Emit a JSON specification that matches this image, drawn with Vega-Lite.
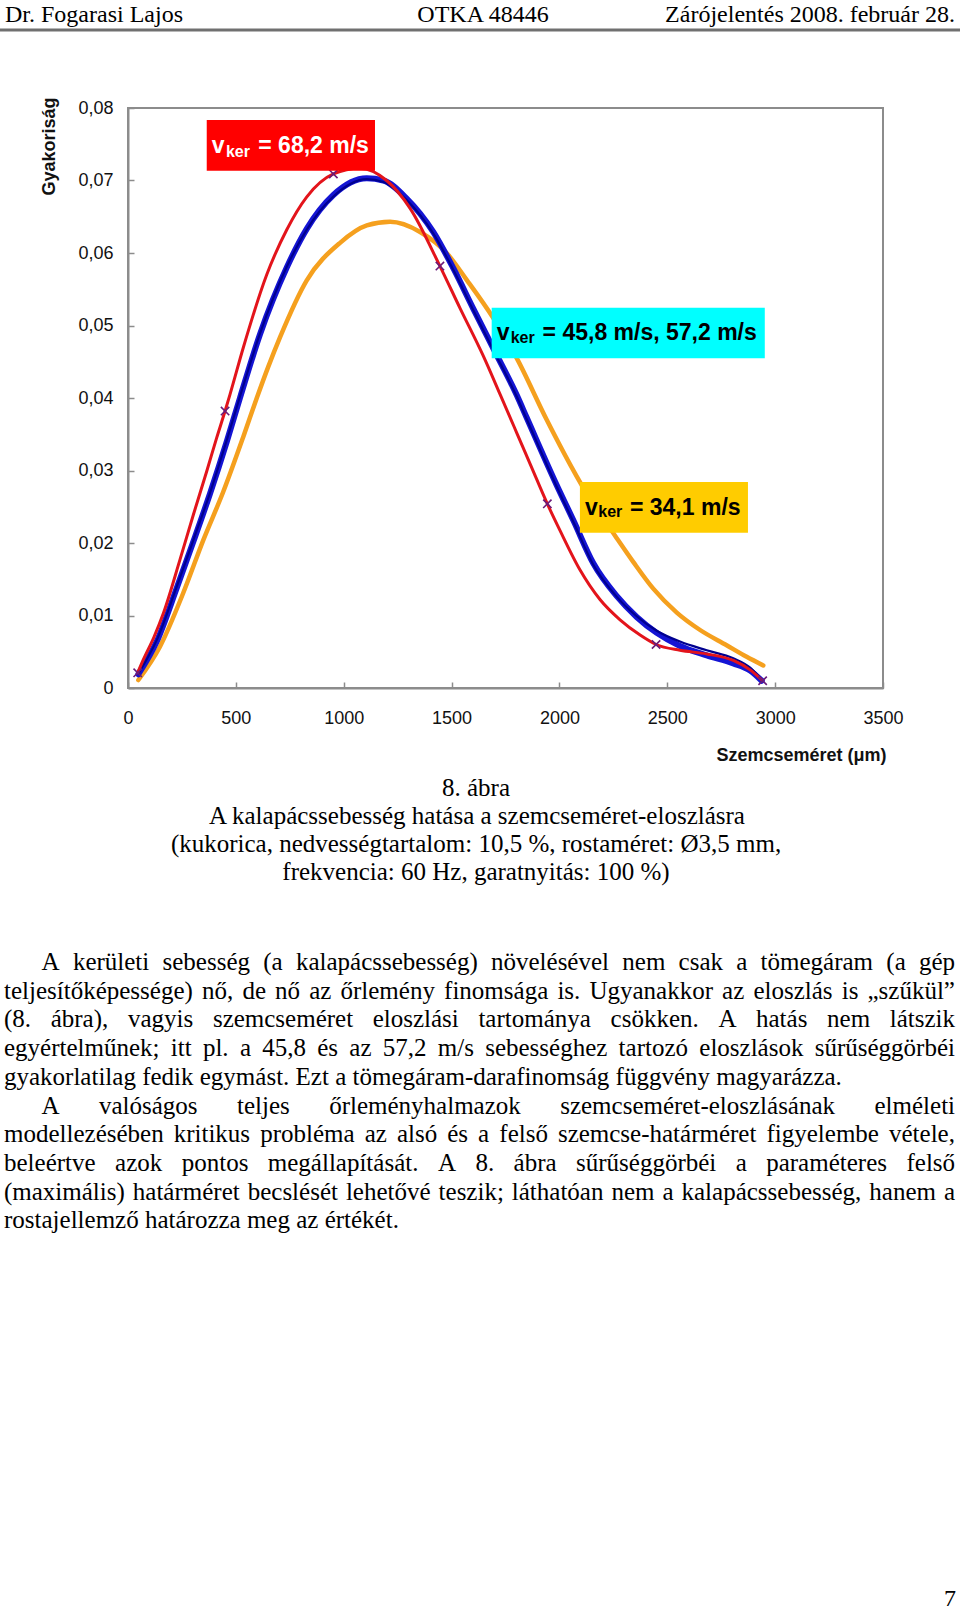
{
"$schema": "https://vega.github.io/schema/vega-lite/v6.json",
"width": 755, "height": 580,
"autosize": {"type": "none"},
"padding": {"left": 128, "top": 108, "right": 77, "bottom": 925},
"background": "#ffffff",
"config": {"view": {"stroke": "#8c8c8c", "strokeWidth": 2}},
"datasets": {
"curves": [
{"v":"34,1","s":48,"f":0.0011},{"v":"34,1","s":148,"f":0.0057},{"v":"34,1","s":256,"f":0.0131},{"v":"34,1","s":349,"f":0.0204},{"v":"34,1","s":442,"f":0.0271},{"v":"34,1","s":535,"f":0.0347},{"v":"34,1","s":597,"f":0.0400},{"v":"34,1","s":650,"f":0.0443},{"v":"34,1","s":705,"f":0.0484},{"v":"34,1","s":828,"f":0.0562},{"v":"34,1","s":983,"f":0.0614},{"v":"34,1","s":1107,"f":0.0638},{"v":"34,1","s":1215,"f":0.0643},{"v":"34,1","s":1354,"f":0.0629},{"v":"34,1","s":1477,"f":0.0600},{"v":"34,1","s":1570,"f":0.0563},{"v":"34,1","s":1694,"f":0.0510},{"v":"34,1","s":1802,"f":0.0455},{"v":"34,1","s":1941,"f":0.0370},{"v":"34,1","s":2080,"f":0.0292},{"v":"34,1","s":2160,"f":0.0252},{"v":"34,1","s":2258,"f":0.0210},{"v":"34,1","s":2342,"f":0.0174},{"v":"34,1","s":2435,"f":0.0137},{"v":"34,1","s":2544,"f":0.0104},{"v":"34,1","s":2652,"f":0.0080},{"v":"34,1","s":2775,"f":0.0059},{"v":"34,1","s":2868,"f":0.0043},{"v":"34,1","s":2945,"f":0.0031},
{"v":"45,8","s":48,"f":0.0019},{"v":"45,8","s":133,"f":0.0064},{"v":"45,8","s":226,"f":0.0138},{"v":"45,8","s":303,"f":0.0202},{"v":"45,8","s":380,"f":0.0268},{"v":"45,8","s":458,"f":0.0340},{"v":"45,8","s":519,"f":0.0400},{"v":"45,8","s":612,"f":0.0488},{"v":"45,8","s":736,"f":0.0580},{"v":"45,8","s":828,"f":0.0633},{"v":"45,8","s":952,"f":0.0680},{"v":"45,8","s":1107,"f":0.0703},{"v":"45,8","s":1184,"f":0.0700},{"v":"45,8","s":1292,"f":0.0675},{"v":"45,8","s":1415,"f":0.0629},{"v":"45,8","s":1508,"f":0.0579},{"v":"45,8","s":1601,"f":0.0523},{"v":"45,8","s":1694,"f":0.0468},{"v":"45,8","s":1802,"f":0.0404},{"v":"45,8","s":1848,"f":0.0373},{"v":"45,8","s":1987,"f":0.0280},{"v":"45,8","s":2065,"f":0.0231},{"v":"45,8","s":2157,"f":0.0172},{"v":"45,8","s":2265,"f":0.0127},{"v":"45,8","s":2358,"f":0.0098},{"v":"45,8","s":2451,"f":0.0076},{"v":"45,8","s":2559,"f":0.0058},{"v":"45,8","s":2683,"f":0.0045},{"v":"45,8","s":2806,"f":0.0034},{"v":"45,8","s":2884,"f":0.0024},{"v":"45,8","s":2938,"f":0.0010},
{"v":"57,2","s":48,"f":0.0020},{"v":"57,2","s":133,"f":0.0066},{"v":"57,2","s":226,"f":0.0140},{"v":"57,2","s":303,"f":0.0204},{"v":"57,2","s":380,"f":0.0269},{"v":"57,2","s":458,"f":0.0342},{"v":"57,2","s":519,"f":0.0402},{"v":"57,2","s":612,"f":0.0489},{"v":"57,2","s":736,"f":0.0581},{"v":"57,2","s":828,"f":0.0632},{"v":"57,2","s":952,"f":0.0678},{"v":"57,2","s":1107,"f":0.0702},{"v":"57,2","s":1184,"f":0.0698},{"v":"57,2","s":1292,"f":0.0673},{"v":"57,2","s":1415,"f":0.0627},{"v":"57,2","s":1508,"f":0.0577},{"v":"57,2","s":1601,"f":0.0521},{"v":"57,2","s":1694,"f":0.0466},{"v":"57,2","s":1802,"f":0.0402},{"v":"57,2","s":1848,"f":0.0371},{"v":"57,2","s":1987,"f":0.0278},{"v":"57,2","s":2065,"f":0.0229},{"v":"57,2","s":2157,"f":0.0170},{"v":"57,2","s":2265,"f":0.0126},{"v":"57,2","s":2358,"f":0.0099},{"v":"57,2","s":2451,"f":0.0079},{"v":"57,2","s":2559,"f":0.0064},{"v":"57,2","s":2683,"f":0.0052},{"v":"57,2","s":2806,"f":0.0041},{"v":"57,2","s":2884,"f":0.0028},{"v":"57,2","s":2938,"f":0.0011},
{"v":"68,2","s":45,"f":0.0021},{"v":"68,2","s":71,"f":0.0039},{"v":"68,2","s":120,"f":0.0070},{"v":"68,2","s":164,"f":0.0103},{"v":"68,2","s":241,"f":0.0177},{"v":"68,2","s":303,"f":0.0239},{"v":"68,2","s":365,"f":0.0299},{"v":"68,2","s":411,"f":0.0345},{"v":"68,2","s":450,"f":0.0382},{"v":"68,2","s":473,"f":0.0405},{"v":"68,2","s":535,"f":0.0470},{"v":"68,2","s":643,"f":0.0570},{"v":"68,2","s":736,"f":0.0632},{"v":"68,2","s":828,"f":0.0677},{"v":"68,2","s":952,"f":0.0709},{"v":"68,2","s":1075,"f":0.0717},{"v":"68,2","s":1199,"f":0.0700},{"v":"68,2","s":1307,"f":0.0662},{"v":"68,2","s":1446,"f":0.0582},{"v":"68,2","s":1539,"f":0.0524},{"v":"68,2","s":1647,"f":0.0458},{"v":"68,2","s":1725,"f":0.0405},{"v":"68,2","s":1802,"f":0.0352},{"v":"68,2","s":1870,"f":0.0305},{"v":"68,2","s":1944,"f":0.0254},{"v":"68,2","s":2003,"f":0.0217},{"v":"68,2","s":2095,"f":0.0163},{"v":"68,2","s":2188,"f":0.0122},{"v":"68,2","s":2281,"f":0.0094},{"v":"68,2","s":2374,"f":0.0073},{"v":"68,2","s":2448,"f":0.0060},{"v":"68,2","s":2559,"f":0.0052},{"v":"68,2","s":2683,"f":0.0047},{"v":"68,2","s":2806,"f":0.0038},{"v":"68,2","s":2884,"f":0.0025},{"v":"68,2","s":2942,"f":0.0010}
],
"crosses": [{"s":45,"f":0.0021},{"s":450,"f":0.0382},{"s":952,"f":0.0709},{"s":1446,"f":0.0582},{"s":1944,"f":0.0254},{"s":2448,"f":0.0060},{"s":2942,"f":0.0010}],
"boxes": [{"b":"r","s":365,"s2":1145,"f":0.07834,"f2":0.07135},{"b":"c","s":1686,"s2":2952,"f":0.05246,"f2":0.04548},{"b":"o","s":2095,"s2":2874,"f":0.02841,"f2":0.02142}],
"lblMain": [{"b":"r","s":388,"f":0.07375,"t":"v"},{"b":"r","s":604,"f":0.07375,"t":"= 68,2 m/s"},{"b":"c","s":1709,"f":0.0480,"t":"v"},{"b":"c","s":1922,"f":0.0480,"t":"= 45,8 m/s, 57,2 m/s"},{"b":"o","s":2119,"f":0.02386,"t":"v"},{"b":"o","s":2327,"f":0.02386,"t":"= 34,1 m/s"}],
"lblSub": [{"b":"r","s":454,"f":0.07331,"t":"ker"},{"b":"c","s":1774,"f":0.04763,"t":"ker"},{"b":"o","s":2180,"f":0.02354,"t":"ker"}],
"rules": [{"px":0,"px2":960,"py":30}],
"pageHead": [
{"px":5,"py":22,"t":"Dr. Fogarasi Lajos","a":"l"},
{"px":483,"py":22,"t":"OTKA 48446","a":"c"},
{"px":955,"py":22,"t":"Zárójelentés 2008. február 28.","a":"r"}
],
"pageLeft": [
{"px":41.6,"py":970,"t":"A"},{"px":72.9,"py":970,"t":"kerületi"},{"px":162.5,"py":970,"t":"sebesség"},{"px":263.2,"py":970,"t":"(a"},{"px":295.9,"py":970,"t":"kalapácssebesség)"},{"px":491,"py":970,"t":"növelésével"},{"px":622.3,"py":970,"t":"nem"},{"px":678.6,"py":970,"t":"csak"},{"px":736.3,"py":970,"t":"a"},{"px":760.6,"py":970,"t":"tömegáram"},{"px":886.3,"py":970,"t":"(a"},{"px":919,"py":970,"t":"gép"},
{"px":4,"py":998.7,"t":"teljesítőképessége)"},{"px":202,"py":998.7,"t":"nő,"},{"px":242.4,"py":998.7,"t":"de"},{"px":275.1,"py":998.7,"t":"nő"},{"px":309.2,"py":998.7,"t":"az"},{"px":340.5,"py":998.7,"t":"őrlemény"},{"px":444.1,"py":998.7,"t":"finomsága"},{"px":557.4,"py":998.7,"t":"is."},{"px":589.4,"py":998.7,"t":"Ugyanakkor"},{"px":722.1,"py":998.7,"t":"az"},{"px":753.4,"py":998.7,"t":"eloszlás"},{"px":841.7,"py":998.7,"t":"is"},{"px":867.5,"py":998.7,"t":"„szűkül”"},
{"px":4,"py":1027.4,"t":"(8."},{"px":50.7,"py":1027.4,"t":"ábra),"},{"px":127.9,"py":1027.4,"t":"vagyis"},{"px":212.9,"py":1027.4,"t":"szemcseméret"},{"px":372.7,"py":1027.4,"t":"eloszlási"},{"px":478.4,"py":1027.4,"t":"tartománya"},{"px":610.6,"py":1027.4,"t":"csökken."},{"px":718.4,"py":1027.4,"t":"A"},{"px":756,"py":1027.4,"t":"hatás"},{"px":827.1,"py":1027.4,"t":"nem"},{"px":889.7,"py":1027.4,"t":"látszik"},
{"px":4,"py":1056,"t":"egyértelműnek;"},{"px":170.8,"py":1056,"t":"itt"},{"px":202.9,"py":1056,"t":"pl."},{"px":239.9,"py":1056,"t":"a"},{"px":262.2,"py":1056,"t":"45,8"},{"px":317.2,"py":1056,"t":"és"},{"px":349.3,"py":1056,"t":"az"},{"px":382.8,"py":1056,"t":"57,2"},{"px":437.8,"py":1056,"t":"m/s"},{"px":485.2,"py":1056,"t":"sebességhez"},{"px":618.6,"py":1056,"t":"tartozó"},{"px":699.3,"py":1056,"t":"eloszlások"},{"px":814.7,"py":1056,"t":"sűrűséggörbéi"},
{"px":4,"py":1084.8,"t":"gyakorlatilag fedik egymást. Ezt a tömegáram-darafinomság függvény magyarázza."},
{"px":41.6,"py":1113.5,"t":"A"},{"px":99,"py":1113.5,"t":"valóságos"},{"px":237,"py":1113.5,"t":"teljes"},{"px":329.2,"py":1113.5,"t":"őrleményhalmazok"},{"px":560.2,"py":1113.5,"t":"szemcseméret-eloszlásának"},{"px":874.5,"py":1113.5,"t":"elméleti"},
{"px":4,"py":1142,"t":"modellezésében"},{"px":173.7,"py":1142,"t":"kritikus"},{"px":260.2,"py":1142,"t":"probléma"},{"px":364.7,"py":1142,"t":"az"},{"px":396.9,"py":1142,"t":"alsó"},{"px":447.2,"py":1142,"t":"és"},{"px":478.1,"py":1142,"t":"a"},{"px":499.3,"py":1142,"t":"felső"},{"px":557.9,"py":1142,"t":"szemcse-határméret"},{"px":766.5,"py":1142,"t":"figyelembe"},{"px":889,"py":1142,"t":"vétele,"},
{"px":4,"py":1171,"t":"beleértve"},{"px":115.1,"py":1171,"t":"azok"},{"px":181.7,"py":1171,"t":"pontos"},{"px":267.8,"py":1171,"t":"megállapítását."},{"px":437.9,"py":1171,"t":"A"},{"px":475.4,"py":1171,"t":"8."},{"px":513.6,"py":1171,"t":"ábra"},{"px":576,"py":1171,"t":"sűrűséggörbéi"},{"px":735.7,"py":1171,"t":"a"},{"px":766.2,"py":1171,"t":"paraméteres"},{"px":906.5,"py":1171,"t":"felső"},
{"px":4,"py":1199.5,"t":"(maximális)"},{"px":132.8,"py":1199.5,"t":"határméret"},{"px":247.7,"py":1199.5,"t":"becslését"},{"px":345.9,"py":1199.5,"t":"lehetővé"},{"px":438.6,"py":1199.5,"t":"teszik;"},{"px":511.8,"py":1199.5,"t":"láthatóan"},{"px":611.4,"py":1199.5,"t":"nem"},{"px":662.5,"py":1199.5,"t":"a"},{"px":681.5,"py":1199.5,"t":"kalapácssebesség,"},{"px":869.3,"py":1199.5,"t":"hanem"},{"px":943.9,"py":1199.5,"t":"a"},
{"px":4,"py":1228,"t":"rostajellemző határozza meg az értékét."}
],
"pageCenter": [
{"px":476,"py":796,"t":"8. ábra"},
{"px":477,"py":824,"t":"A kalapácssebesség hatása a szemcseméret-eloszlásra"},
{"px":476,"py":852,"t":"(kukorica, nedvességtartalom: 10,5 %, rostaméret: Ø3,5 mm,"},
{"px":476,"py":880,"t":"frekvencia: 60 Hz, garatnyitás: 100 %)"}
],
"pageRight": [
{"px":956,"py":1606,"t":"7"}
]
},
"layer": [
{
"layer": [
{"data": {"name": "curves"}, "transform": [{"filter": "datum.v == '34,1'"}],
 "mark": {"type": "line", "interpolate": "monotone", "strokeCap": "round", "strokeJoin": "round", "color": "#F5A01E", "strokeWidth": 4.5},
 "encoding": {
  "x": {"field": "s", "type": "quantitative", "scale": {"domain": [0, 3500], "nice": false, "zero": false},
   "axis": {"values": [0,500,1000,1500,2000,2500,3000,3500], "format": "d", "grid": false, "domainColor": "#8c8c8c", "domainWidth": 2, "tickColor": "#8c8c8c", "tickWidth": 1.5, "tickSize": -6, "labelPadding": 27, "labelFont": "Liberation Sans", "labelFontSize": 18, "labelColor": "#111111", "labelFlush": false, "labelOverlap": false, "labelBound": false, "title": "Szemcseméret (μm)", "titleFont": "Liberation Sans", "titleFontSize": 18, "titleFontWeight": "bold", "titleColor": "#111111", "titleAlign": "right", "titleX": 758, "titleY": 67, "titleBaseline": "middle"}},
  "y": {"field": "f", "type": "quantitative", "scale": {"domain": [0, 0.08], "nice": false, "zero": false},
   "axis": {"values": [0,0.01,0.02,0.03,0.04,0.05,0.06,0.07,0.08], "labelExpr": "datum.value == 0 ? '0' : replace(format(datum.value, '.2f'), '.', ',')", "grid": false, "domainColor": "#8c8c8c", "domainWidth": 2, "tickColor": "#8c8c8c", "tickWidth": 1.5, "tickSize": -6, "labelPadding": 21, "labelFont": "Liberation Sans", "labelFontSize": 18, "labelColor": "#111111", "labelOverlap": false, "labelBound": false, "title": "Gyakoriság", "titleFont": "Liberation Sans", "titleFontSize": 18, "titleFontWeight": "bold", "titleColor": "#111111", "titleAngle": -90, "titleX": -79, "titleY": 38, "titleAlign": "center", "titleBaseline": "middle"}}
 }},
{"data": {"name": "curves"}, "transform": [{"filter": "datum.v == '45,8'"}],
 "mark": {"type": "line", "interpolate": "monotone", "strokeCap": "round", "strokeJoin": "round", "color": "#1414D4", "strokeWidth": 6},
 "encoding": {"x": {"field": "s", "type": "quantitative"}, "y": {"field": "f", "type": "quantitative"}}},
{"data": {"name": "curves"}, "transform": [{"filter": "datum.v == '57,2'"}],
 "mark": {"type": "line", "interpolate": "monotone", "strokeCap": "round", "strokeJoin": "round", "color": "#00008F", "strokeWidth": 2.2},
 "encoding": {"x": {"field": "s", "type": "quantitative"}, "y": {"field": "f", "type": "quantitative"}}},
{"data": {"name": "curves"}, "transform": [{"filter": "datum.v == '68,2'"}],
 "mark": {"type": "line", "interpolate": "monotone", "strokeCap": "round", "strokeJoin": "round", "color": "#E3141B", "strokeWidth": 3},
 "encoding": {"x": {"field": "s", "type": "quantitative"}, "y": {"field": "f", "type": "quantitative"}}},
{"data": {"name": "crosses"},
 "mark": {"type": "point", "shape": "M-1,-1L1,1M-1,1L1,-1", "filled": false, "color": "#6a1b7a", "strokeWidth": 1.6, "size": 70, "opacity": 1},
 "encoding": {"x": {"field": "s", "type": "quantitative"}, "y": {"field": "f", "type": "quantitative"}}},
{"data": {"name": "boxes"},
 "mark": {"type": "rect"},
 "encoding": {"x": {"field": "s", "type": "quantitative"}, "x2": {"field": "s2"}, "y": {"field": "f", "type": "quantitative"}, "y2": {"field": "f2"},
  "fill": {"field": "b", "type": "nominal", "scale": {"domain": ["r","c","o"], "range": ["#FF0000","#00FFFF","#FFCC00"]}, "legend": null}}},
{"data": {"name": "lblMain"},
 "mark": {"type": "text", "align": "left", "baseline": "alphabetic", "font": "Liberation Sans", "fontWeight": "bold", "fontSize": 23},
 "encoding": {"x": {"field": "s", "type": "quantitative"}, "y": {"field": "f", "type": "quantitative"}, "text": {"field": "t"},
  "color": {"field": "b", "type": "nominal", "scale": {"domain": ["r","c","o"], "range": ["#ffffff","#000000","#000000"]}, "legend": null}}},
{"data": {"name": "lblSub"},
 "mark": {"type": "text", "align": "left", "baseline": "alphabetic", "font": "Liberation Sans", "fontWeight": "bold", "fontSize": 16},
 "encoding": {"x": {"field": "s", "type": "quantitative"}, "y": {"field": "f", "type": "quantitative"}, "text": {"field": "t"},
  "color": {"field": "b", "type": "nominal", "scale": {"domain": ["r","c","o"], "range": ["#ffffff","#000000","#000000"]}, "legend": null}}}
],
"resolve": {"scale": {"color": "independent", "fill": "independent"}}
},
{
"layer": [
{"data": {"name": "rules"},
 "mark": {"type": "rule", "color": "#707070", "strokeWidth": 3},
 "encoding": {"x": {"field": "px", "type": "quantitative", "scale": {"domain": [0, 960], "range": [-128, 832], "nice": false, "zero": false}, "axis": null}, "x2": {"field": "px2"},
  "y": {"field": "py", "type": "quantitative", "scale": {"domain": [0, 1613], "range": [-108, 1505], "nice": false, "zero": false}, "axis": null}}},
{"data": {"name": "pageHead"}, "transform": [{"filter": "datum.a == 'l'"}],
 "mark": {"type": "text", "align": "left", "baseline": "alphabetic", "font": "Liberation Serif", "fontSize": 24, "color": "#000000"},
 "encoding": {"x": {"field": "px", "type": "quantitative", "axis": null}, "y": {"field": "py", "type": "quantitative", "axis": null}, "text": {"field": "t"}}},
{"data": {"name": "pageHead"}, "transform": [{"filter": "datum.a == 'c'"}],
 "mark": {"type": "text", "align": "center", "baseline": "alphabetic", "font": "Liberation Serif", "fontSize": 24, "color": "#000000"},
 "encoding": {"x": {"field": "px", "type": "quantitative", "axis": null}, "y": {"field": "py", "type": "quantitative", "axis": null}, "text": {"field": "t"}}},
{"data": {"name": "pageHead"}, "transform": [{"filter": "datum.a == 'r'"}],
 "mark": {"type": "text", "align": "right", "baseline": "alphabetic", "font": "Liberation Serif", "fontSize": 24, "color": "#000000"},
 "encoding": {"x": {"field": "px", "type": "quantitative", "axis": null}, "y": {"field": "py", "type": "quantitative", "axis": null}, "text": {"field": "t"}}},
{"data": {"name": "pageLeft"},
 "mark": {"type": "text", "align": "left", "baseline": "alphabetic", "font": "Liberation Serif", "fontSize": 25, "color": "#000000"},
 "encoding": {"x": {"field": "px", "type": "quantitative", "axis": null}, "y": {"field": "py", "type": "quantitative", "axis": null}, "text": {"field": "t"}}},
{"data": {"name": "pageCenter"},
 "mark": {"type": "text", "align": "center", "baseline": "alphabetic", "font": "Liberation Serif", "fontSize": 25, "color": "#000000"},
 "encoding": {"x": {"field": "px", "type": "quantitative", "axis": null}, "y": {"field": "py", "type": "quantitative", "axis": null}, "text": {"field": "t"}}},
{"data": {"name": "pageRight"},
 "mark": {"type": "text", "align": "right", "baseline": "alphabetic", "font": "Liberation Serif", "fontSize": 24, "color": "#000000"},
 "encoding": {"x": {"field": "px", "type": "quantitative", "axis": null}, "y": {"field": "py", "type": "quantitative", "axis": null}, "text": {"field": "t"}}}
]
}
],
"resolve": {"scale": {"x": "independent", "y": "independent"}}
}
